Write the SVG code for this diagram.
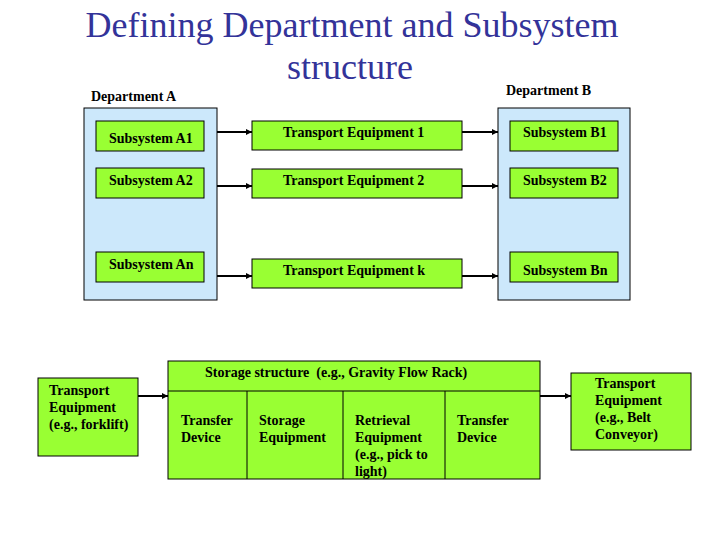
<svg xmlns="http://www.w3.org/2000/svg" width="720" height="540" viewBox="0 0 720 540">
<defs>
<style>
.title{font-family:'Liberation Serif',Tinos,'Times New Roman','DejaVu Serif',serif;font-size:36px;fill:#333399;text-anchor:middle}
.lbl{font-family:'Liberation Serif',Tinos,'Times New Roman','DejaVu Serif',serif;font-size:14px;font-weight:bold;fill:#000}
.dept{fill:#cce8fb;stroke:#000;stroke-width:1}
.box{fill:#99ff33;stroke:#000;stroke-width:1}
.conn{stroke:#000;stroke-width:2;fill:none;marker-end:url(#ah)}
</style>
<marker id="ah" viewBox="0 0 6 6" refX="6" refY="3" markerWidth="3" markerHeight="3" orient="auto" markerUnits="strokeWidth">
<path d="M0,0 L6,3 L0,6 z" fill="#000"/>
</marker>
</defs>
<rect width="720" height="540" fill="#fff"/>
<g id="title">
<text class="title" x="352" y="37">Defining Department and Subsystem</text>
<text class="title" x="350" y="79">structure</text>
</g>
<g id="deptA">
<text class="lbl" x="91" y="101">Department A</text>
<rect class="dept" x="84" y="108" width="133" height="192"/>
</g>
<g id="deptB">
<text class="lbl" x="506" y="95">Department B</text>
<rect class="dept" x="498" y="108" width="132" height="192"/>
</g>
<g id="subA1"><rect class="box" x="96" y="121" width="108" height="30"/><text class="lbl" x="109" y="143">Subsystem A1</text></g>
<g id="subA2"><rect class="box" x="96" y="168" width="108" height="30"/><text class="lbl" x="109" y="185">Subsystem A2</text></g>
<g id="subAn"><rect class="box" x="96" y="252" width="108" height="30"/><text class="lbl" x="109" y="269">Subsystem An</text></g>
<g id="te1"><rect class="box" x="252" y="121" width="210" height="29"/><text class="lbl" x="283" y="137">Transport Equipment 1</text></g>
<g id="te2"><rect class="box" x="252" y="169" width="210" height="29"/><text class="lbl" x="283" y="185">Transport Equipment 2</text></g>
<g id="tek"><rect class="box" x="252" y="259" width="210" height="29"/><text class="lbl" x="283" y="275">Transport Equipment k</text></g>
<g id="subB1"><rect class="box" x="510" y="121" width="108" height="30"/><text class="lbl" x="523" y="137">Subsystem B1</text></g>
<g id="subB2"><rect class="box" x="510" y="168" width="108" height="30"/><text class="lbl" x="523" y="185">Subsystem B2</text></g>
<g id="subBn"><rect class="box" x="510" y="252" width="108" height="30"/><text class="lbl" x="523" y="275">Subsystem Bn</text></g>
<g id="forklift">
<rect class="box" x="38" y="378" width="100" height="78"/>
<text class="lbl" x="49" y="395">Transport</text>
<text class="lbl" x="49" y="412">Equipment</text>
<text class="lbl" x="49" y="429">(e.g., forklift)</text>
</g>
<g id="storage">
<rect class="box" x="168" y="361" width="372" height="118"/>
<line x1="168" y1="391" x2="540" y2="391" stroke="#000"/>
<line x1="247" y1="391" x2="247" y2="479" stroke="#000"/>
<line x1="343" y1="391" x2="343" y2="479" stroke="#000"/>
<line x1="445" y1="391" x2="445" y2="479" stroke="#000"/>
<text class="lbl" x="205" y="377" xml:space="preserve">Storage structure  (e.g., Gravity Flow Rack)</text>
<text class="lbl" x="181" y="425">Transfer</text>
<text class="lbl" x="181" y="442">Device</text>
<text class="lbl" x="259" y="425">Storage</text>
<text class="lbl" x="259" y="442">Equipment</text>
<text class="lbl" x="355" y="425">Retrieval</text>
<text class="lbl" x="355" y="442">Equipment</text>
<text class="lbl" x="355" y="459">(e.g., pick to</text>
<text class="lbl" x="355" y="476">light)</text>
<text class="lbl" x="457" y="425">Transfer</text>
<text class="lbl" x="457" y="442">Device</text>
</g>
<g id="belt">
<rect class="box" x="571" y="373" width="120" height="77"/>
<text class="lbl" x="595" y="388">Transport</text>
<text class="lbl" x="595" y="405">Equipment</text>
<text class="lbl" x="595" y="422">(e.g., Belt</text>
<text class="lbl" x="595" y="439">Conveyor)</text>
</g>
<g id="connectors">
<line class="conn" x1="217" y1="132" x2="252" y2="132"/>
<line class="conn" x1="217" y1="186" x2="252" y2="186"/>
<line class="conn" x1="217" y1="276" x2="252" y2="276"/>
<line class="conn" x1="462" y1="132" x2="498" y2="132"/>
<line class="conn" x1="462" y1="186" x2="498" y2="186"/>
<line class="conn" x1="462" y1="276" x2="498" y2="276"/>
<line class="conn" x1="138" y1="396" x2="168" y2="396"/>
<line class="conn" x1="540" y1="396" x2="571" y2="396"/>
</g>
</svg>
